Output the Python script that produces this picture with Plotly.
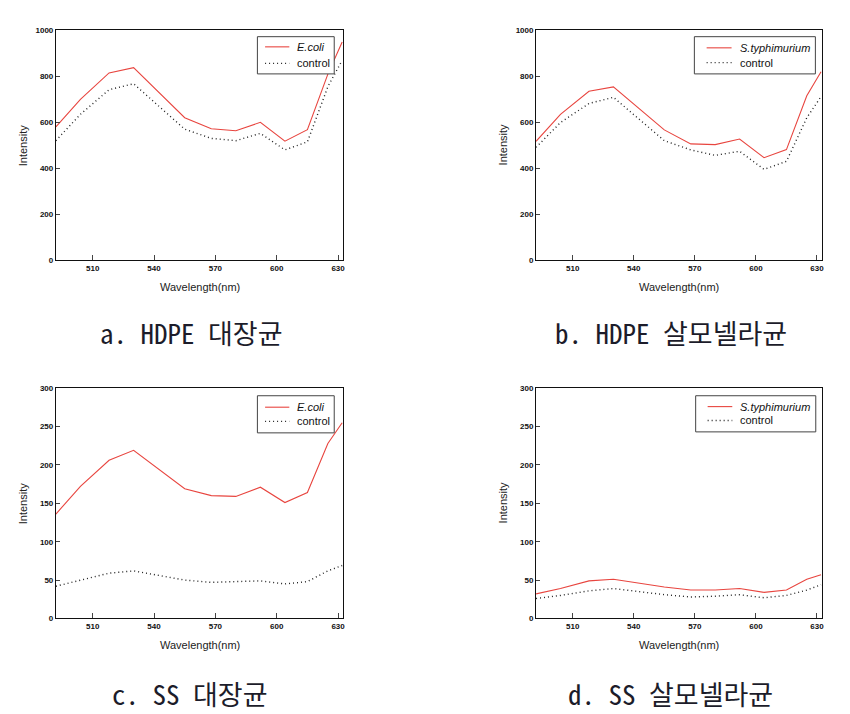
import plotly.graph_objects as go

# ---- data ----
wavelength = [492, 504, 518, 530, 555, 568, 580, 592, 604, 615, 625, 632]

hdpe_ecoli = [580, 700, 815, 838, 620, 572, 563, 600, 518, 568, 810, 950]
hdpe_ecoli_control = [520, 635, 742, 768, 570, 530, 520, 552, 480, 515, 755, 870]

hdpe_salm = [517, 635, 735, 754, 567, 506, 503, 527, 446, 481, 716, 820]
hdpe_salm_control = [491, 599, 682, 709, 520, 480, 456, 474, 395, 430, 620, 712]

ss_ecoli = [136, 172, 206, 219, 169, 160, 159, 171, 151, 164, 228, 255]
ss_ecoli_control = [42, 50, 59, 62, 50, 47, 48, 49, 45, 48, 62, 69]

ss_salm = [32, 39, 49, 51, 41, 37, 37, 39, 34, 37, 51, 57]
ss_salm_control = [26, 30, 36, 39, 31, 28, 29, 31, 27, 30, 37, 44]

captions = ["a. HDPE 대장균", "b. HDPE 살모넬라균", "c. SS 대장균", "d. SS 살모넬라균"]
bacteria_names = ["<i>E.coli</i>", "<i>S.typhimurium</i>", "<i>E.coli</i>", "<i>S.typhimurium</i>"]
control_name = "control"
y_max = [1000, 1000, 300, 300]
y_step = [200, 200, 50, 50]

# page body has an 8px margin: shift everything by OFF
OFF = 8
W, H = 850 - OFF, 714 - OFF


def px(x):
    return (x - OFF) / W


def py(y):
    return 1 - (y - OFF) / H


# panel pixel boxes: (left, right, top, bottom)
boxes = [(56, 344, 26.7, 259.3), (537.3, 824, 26.7, 259.3),
         (56, 344, 389, 622.3), (537.3, 824, 389, 622.3)]
# legend: box (l, r, t, b), sample x0, x1, text x, row y1, row y2
legend_geo = [((258, 335, 33, 70.7), 265.7, 290, 296, 43.3, 60),
              ((696, 817.3, 33, 70.7), 708.3, 733.3, 739.3, 44.3, 59.3),
              ((258, 335, 396.7, 434.3), 265.7, 290, 296, 408.3, 422.7),
              ((697.3, 817.7, 396.7, 433.3), 709.3, 734, 740, 407.7, 421.7)]
caption_pos = [(192, 333), (673, 333), (190, 698), (672, 698)]

series = [(hdpe_ecoli, hdpe_ecoli_control), (hdpe_salm, hdpe_salm_control),
          (ss_ecoli, ss_ecoli_control), (ss_salm, ss_salm_control)]

RED = "#e8453f"
CTRL = "#222222"
CTRL_DASH = "1px,3px"
FONT = "Liberation Sans, Arial"

fig = go.Figure()
annotations = []
shapes = []
tickfont = dict(family=FONT, size=8, color="#111", weight="bold")
layout = dict(width=W, height=H, margin=dict(l=0, r=0, t=0, b=0),
              paper_bgcolor="white", plot_bgcolor="white", showlegend=False)

for i in range(4):
    n = "" if i == 0 else str(i + 1)
    sample, control = series[i]
    fig.add_trace(go.Scatter(x=wavelength, y=sample, mode="lines", name=bacteria_names[i],
                             line=dict(color=RED, width=1.1),
                             xaxis="x" + n, yaxis="y" + n))
    fig.add_trace(go.Scatter(x=wavelength, y=control, mode="lines", name=control_name,
                             line=dict(color=CTRL, width=1.4, dash=CTRL_DASH),
                             xaxis="x" + n, yaxis="y" + n))
    l, r, t, b = boxes[i]
    layout["xaxis" + n] = dict(domain=[px(l), px(r)], range=[492, 632.5], anchor="y" + n,
                               tick0=510, dtick=30, ticks="inside", ticklen=5,
                               showline=True, mirror=True, linecolor="#111", linewidth=1,
                               showgrid=False, zeroline=False, tickfont=tickfont)
    layout["yaxis" + n] = dict(domain=[py(b), py(t)], range=[0, y_max[i]], anchor="x" + n,
                               dtick=y_step[i], ticks="inside", ticklen=4,
                               showline=True, mirror=True, linecolor="#111", linewidth=1,
                               showgrid=False, zeroline=False, tickfont=tickfont)

    # legend box (drawn as a framed box with sample lines and real text)
    (bl, br, bt, bb), sx0, sx1, tx, r1, r2 = legend_geo[i]
    shapes.append(dict(type="rect", xref="paper", yref="paper",
                       x0=px(bl), x1=px(br), y0=py(bb), y1=py(bt),
                       line=dict(color="#444", width=1), fillcolor="white"))
    shapes.append(dict(type="line", xref="paper", yref="paper",
                       x0=px(sx0), x1=px(sx1), y0=py(r1), y1=py(r1),
                       line=dict(color=RED, width=1.1)))
    shapes.append(dict(type="line", xref="paper", yref="paper",
                       x0=px(sx0), x1=px(sx1), y0=py(r2), y1=py(r2),
                       line=dict(color=CTRL, width=1.4, dash=CTRL_DASH)))
    annotations.append(dict(text=bacteria_names[i], x=px(tx), y=py(r1), xanchor="left",
                            yanchor="middle", xref="paper", yref="paper", showarrow=False,
                            font=dict(family=FONT, size=11, color="#111")))
    annotations.append(dict(text=control_name, x=px(tx), y=py(r2), xanchor="left",
                            yanchor="middle", xref="paper", yref="paper", showarrow=False,
                            font=dict(family=FONT, size=11, color="#111")))

    # axis titles
    annotations.append(dict(text="Wavelength(nm)", x=px((l + r) / 2), y=py(b + 27),
                            xanchor="center", yanchor="middle",
                            xref="paper", yref="paper", showarrow=False,
                            font=dict(family=FONT, size=11, color="#222")))
    annotations.append(dict(text="Intensity", x=px(l - 33), y=py((t + b) / 2),
                            xanchor="center", yanchor="middle",
                            xref="paper", yref="paper", showarrow=False, textangle=-90,
                            font=dict(family=FONT, size=11, color="#222")))
    cx, cy = caption_pos[i]
    annotations.append(dict(text=captions[i], x=px(cx), y=py(cy),
                            xanchor="center", yanchor="middle",
                            xref="paper", yref="paper", showarrow=False,
                            font=dict(family="Noto Sans Mono CJK KR, Noto Sans CJK KR", size=27,
                                      weight=300, color="#1c1c2a")))

layout["annotations"] = annotations
layout["shapes"] = shapes
fig.update_layout(**layout)
fig.write_html("out.html")
